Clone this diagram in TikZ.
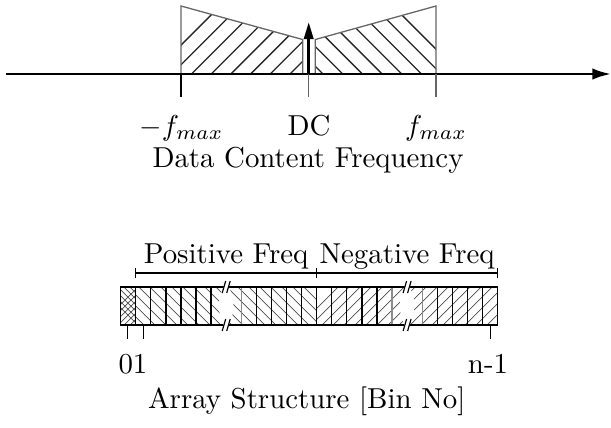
\documentclass[tikz,border=0pt]{standalone}
\usetikzlibrary{arrows.meta}
\begin{document}
\begin{tikzpicture}[x=0.3467pt,y=-0.3467pt,
  outline/.style={draw=black!60, line width=0.45pt},
  hatch/.style={black!85, line width=0.45pt},
  cellhatch/.style={black!70, line width=0.25pt},
  celledge/.style={black, line width=0.45pt},
  softedge/.style={black!45, line width=0.45pt},
  tick/.style={black!60, line width=0.35pt},
  lbl/.style={inner sep=0pt, anchor=base}]
\useasboundingbox (0,0) rectangle (611,427);
% ---------- top: data content frequency ----------
\begin{scope}
  \clip (181,74) -- (181,6) -- (302.7,39.5) -- (302.7,74) -- cycle;
  \foreach \k in {-1,...,7} \draw[hatch] ({290-19.7*\k},74) -- ++(90,-90);
\end{scope}
\begin{scope}
  \clip (315.3,74) -- (315.3,39.5) -- (436,6) -- (436,74) -- cycle;
  \foreach \k in {-1,...,7} \draw[hatch] ({323+19.7*\k},74) -- ++(-90,-90);
\end{scope}
\draw[outline] (181,74) -- (181,6) -- (302.7,39.5) -- (302.7,74);
\draw[outline] (315.3,74) -- (315.3,39.5) -- (436,6) -- (436,74);
\coordinate (axl) at (6,74);
\coordinate (axr) at (611,74);
\draw[line width=0.9pt, -{Latex[length=6.5pt,width=4pt]}] (axl) -- (axr);
\coordinate (dcb) at (308.7,74);
\coordinate (dct) at (308.7,22);
\draw[line width=1pt, -{Triangle[length=5.9pt,width=3.2pt]}] (dcb) -- (dct);
\draw[line width=0.55pt] (181,74) -- (181,97);
\draw[tick] (308.7,74) -- (308.7,97);
\draw[tick] (436,74) -- (436,97);
\node[lbl] (fmin) at (181.5,135) {$-f_{max}$};
\node[lbl] (dc) at (309,135) {DC};
\node[lbl] (fmax) at (436,135) {$f_{max}$};
\node[lbl] (dcf) at (308,167) {Data Content Frequency};
% ---------- bottom: array structure ----------
\def\xa{135.7}
\def\cw{15.08}
\def\yt{287}
\def\yb{325}
\begin{scope}
  \clip (120.6,\yt) rectangle (\xa,\yb);
  \foreach \k in {0,...,12} {
    \draw[cellhatch] ({100+6*\k},\yt) -- ++(50,50);
    \draw[cellhatch] ({100+6*\k},\yb) -- ++(50,-50);
  }
\end{scope}
\begin{scope}
  \clip (\xa,\yt) rectangle (316.7,\yb);
  \foreach \k in {0,...,19} \draw[cellhatch] ({95+11*\k},\yt) -- ++(60,60);
\end{scope}
\begin{scope}
  \clip (316.7,\yt) rectangle (497.6,\yb);
  \foreach \k in {0,...,19} \draw[cellhatch] ({300+11*\k},\yb) -- ++(60,-60);
\end{scope}
\foreach \i in {0,...,24} {
  \ifnum\i=6\relax\else\ifnum\i=18\relax\else
    \ifnum\i=7\relax
      \draw[softedge] ({\xa+\cw*\i},\yt) -- ({\xa+\cw*\i},\yb);
    \else\ifnum\i=17\relax
      \draw[softedge] ({\xa+\cw*\i},\yt) -- ({\xa+\cw*\i},\yb);
    \else\ifnum\i=19\relax
      \draw[softedge] ({\xa+\cw*\i},\yt) -- ({\xa+\cw*\i},\yb);
    \else
      \draw[celledge] ({\xa+\cw*\i},\yt) -- ({\xa+\cw*\i},\yb);
    \fi\fi\fi
  \fi\fi
}
\draw[celledge] (120.6,\yt) rectangle (497.6,\yb);
% breaks
\foreach \c in {226.2,407.1} {
  \fill[white] ({\c-2.25},{\yt-0.8}) .. controls ({\c-9},300) and ({\c-9},312) .. ({\c-2.25},{\yb+0.8})
     -- ({\c+2.25},{\yb+0.8}) .. controls ({\c+9},312) and ({\c+9},300) .. ({\c+2.25},{\yt-0.8}) -- cycle;
  \draw[line width=0.4pt] ({\c-4},293) -- ({\c-0.5},281);
  \draw[line width=0.4pt] ({\c+0.5},293) -- ({\c+4},281);
  \draw[line width=0.4pt] ({\c-4},331) -- ({\c-0.5},319);
  \draw[line width=0.4pt] ({\c+0.5},331) -- ({\c+4},319);
}
% brackets
\coordinate (bl) at (\xa,273);
\coordinate (bm) at (316.7,273);
\coordinate (br) at (497.6,273);
\draw[line width=0.4pt] (bl) -- (br);
\foreach \p in {bl,bm,br} \draw[line width=0.4pt] ([yshift=-1.7pt]\p) -- ([yshift=1.7pt]\p);
\node[lbl] (pf) at (226.2,263) {Positive Freq};
\node[lbl] (nf) at (407.1,263) {Negative Freq};
% index ticks
\draw[line width=0.4pt] (127.9,\yb) -- (127.9,339);
\draw[line width=0.4pt] (143.2,\yb) -- (143.2,339);
\draw[line width=0.4pt] (490.1,\yb) -- (490.1,339);
\node[lbl] (i01) at (133,373) {01};
\node[lbl] (inm) at (488,373) {n-1};
\node[lbl] (asb) at (306.7,408) {Array Structure [Bin No]};
\end{tikzpicture}
\end{document}
